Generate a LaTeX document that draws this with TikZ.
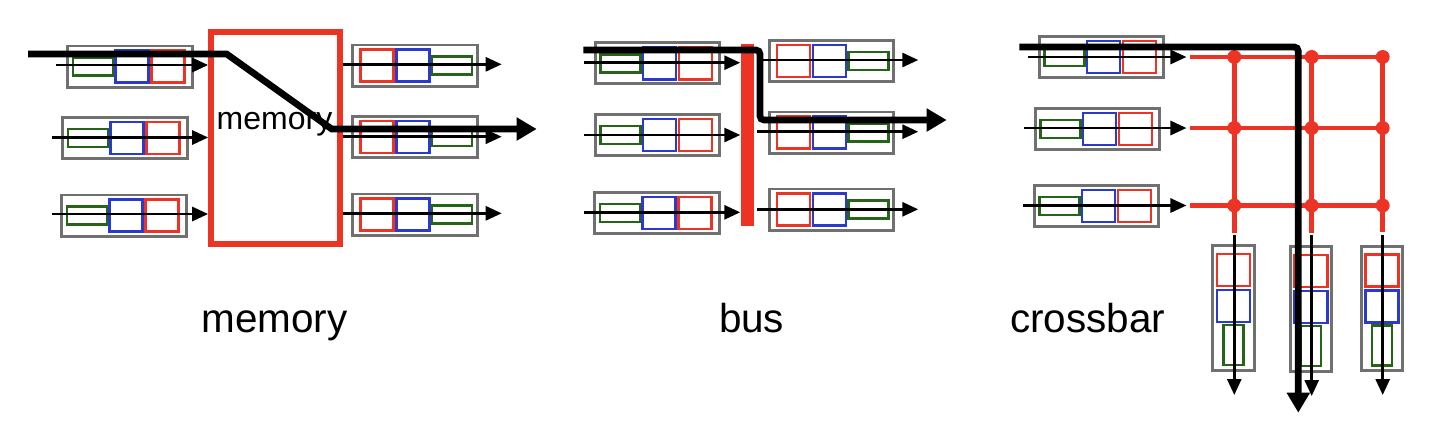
\documentclass[tikz,border=0pt]{standalone}
\usepackage{fontspec}
\setmainfont{Liberation Sans}
\usetikzlibrary{arrows.meta}

\definecolor{qred}{RGB}{236,51,36}
\definecolor{qblue}{RGB}{42,58,206}
\definecolor{qgreen}{RGB}{38,100,24}
\definecolor{qgrey}{RGB}{112,112,112}

\begin{document}
\begin{tikzpicture}[x=0.01cm, y=-0.01cm,
    qbox/.style={draw=qgrey, line width=0.85pt, minimum width=1.24cm, minimum height=0.41cm, inner sep=0pt},
    qboxv/.style={draw=qgrey, line width=0.85pt, minimum width=0.41cm, minimum height=1.24cm, inner sep=0pt},
    gcell/.style={draw=qgreen, line width=0.75pt, minimum width=0.40cm, minimum height=0.18cm, inner sep=0pt},
    gcellv/.style={draw=qgreen, line width=0.75pt, minimum width=0.20cm, minimum height=0.40cm, inner sep=0pt},
    bcell/.style={draw=qblue, line width=0.75pt, minimum width=0.33cm, minimum height=0.32cm, inner sep=0pt},
    rcell/.style={draw=qred, line width=0.75pt, minimum width=0.33cm, minimum height=0.32cm, inner sep=0pt},
    flow/.style={-{Triangle[length=1.6mm, width=1.4mm]}, line width=0.8pt},
    route/.style={-{Triangle[length=2mm, width=2.2mm]}, line width=1.9pt, rounded corners=0.4mm},
    xbar/.style={qred, line width=1.4pt},
    sectlabel/.style={anchor=base west, inner sep=0pt, font=\fontsize{11.5}{14}\selectfont}]

    \useasboundingbox (0,0) rectangle (1432,432);

    \node [qbox] (min1) at (130,66.5) {};
    \node [gcell] (min1g) at (93,66.5) {};
    \node [bcell] (min1b) at (132,66.5) {};
    \node [rcell] (min1r) at (168,66.5) {};
    \node [qbox] (min2) at (125,138) {};
    \node [gcell] (min2g) at (88,138) {};
    \node [bcell] (min2b) at (127,138) {};
    \node [rcell] (min2r) at (163,138) {};
    \node [qbox] (min3) at (124,215.5) {};
    \node [gcell] (min3g) at (87,215.5) {};
    \node [bcell] (min3b) at (126,215.5) {};
    \node [rcell] (min3r) at (162,215.5) {};

    \node [draw=qred, line width=1.7pt, minimum width=1.29cm, minimum height=2.11cm, inner sep=0pt] (mem) at (275.7,138) {};
    \node [anchor=base west, inner sep=0pt, font=\fontsize{9.1}{11}\selectfont] (memtext) at (216,129.3) {memory};

    \node [qbox] (mout1) at (415,65.5) {};
    \node [rcell] (mout1r) at (377,65.5) {};
    \node [bcell] (mout1b) at (413,65.5) {};
    \node [gcell] (mout1g) at (452,65.5) {};
    \node [qbox] (mout2) at (415,137) {};
    \node [rcell] (mout2r) at (377,137) {};
    \node [bcell] (mout2b) at (413,137) {};
    \node [gcell] (mout2g) at (452,137) {};
    \node [qbox] (mout3) at (415,214.5) {};
    \node [rcell] (mout3r) at (377,214.5) {};
    \node [bcell] (mout3b) at (413,214.5) {};
    \node [gcell] (mout3g) at (452,214.5) {};

    \coordinate (mi1) at (56,65);
    \coordinate (mi2) at (52,137.5);
    \coordinate (mi3) at (52,214);
    \coordinate (mo1) at (501.7,64.3);
    \coordinate (mo2) at (501.7,136.7);
    \coordinate (mo3) at (501.7,213.3);
    \draw [flow] (mi1) -- (mi1 -| mem.west);
    \draw [flow] (mi2) -- (mi2 -| mem.west);
    \draw [flow] (mi3) -- (mi3 -| mem.west);
    \draw [flow] (mo1 -| mem.east) -- (mo1);
    \draw [flow] (mo2 -| mem.east) -- (mo2);
    \draw [flow] (mo3 -| mem.east) -- (mo3);

    \coordinate (mp0) at (28,54);
    \coordinate (mp1) at (226.7,54);
    \coordinate (mp2) at (331.7,129);
    \coordinate (mp3) at (536.7,129);
    \draw [route, rounded corners=0pt] (mp0) -- (mp1) -- (mp2) -- (mp3);

    \node [qbox] (bin1) at (657.5,63.3) {};
    \node [gcell] (bin1g) at (620.5,63.3) {};
    \node [bcell] (bin1b) at (659.5,63.3) {};
    \node [rcell] (bin1r) at (695.5,63.3) {};
    \node [qbox] (bin2) at (657.5,135) {};
    \node [gcell] (bin2g) at (620.5,135) {};
    \node [bcell] (bin2b) at (659.5,135) {};
    \node [rcell] (bin2r) at (695.5,135) {};
    \node [qbox] (bin3) at (657,213) {};
    \node [gcell] (bin3g) at (620,213) {};
    \node [bcell] (bin3b) at (659,213) {};
    \node [rcell] (bin3r) at (695,213) {};

    \node [fill=qred, minimum width=0.13cm, minimum height=1.82cm, inner sep=0pt] (bar) at (747.5,135) {};

    \node [qbox] (bout1) at (831.5,61) {};
    \node [rcell] (bout1r) at (793.5,61) {};
    \node [bcell] (bout1b) at (829.5,61) {};
    \node [gcell] (bout1g) at (868.5,61) {};
    \node [qbox] (bout2) at (831.5,132.5) {};
    \node [rcell] (bout2r) at (793.5,132.5) {};
    \node [bcell] (bout2b) at (829.5,132.5) {};
    \node [gcell] (bout2g) at (868.5,132.5) {};
    \node [qbox] (bout3) at (831.5,209.5) {};
    \node [rcell] (bout3r) at (793.5,209.5) {};
    \node [bcell] (bout3b) at (829.5,209.5) {};
    \node [gcell] (bout3g) at (868.5,209.5) {};

    \coordinate (bi1) at (584,62.7);
    \coordinate (bi2) at (584,135);
    \coordinate (bi3) at (584,212.3);
    \coordinate (bs1) at (757,60);
    \coordinate (bs2) at (757,131.7);
    \coordinate (bs3) at (757,209.3);
    \coordinate (bo1) at (918.3,60);
    \coordinate (bo2) at (918.3,131.7);
    \coordinate (bo3) at (918.3,209.3);
    \draw [flow] (bi1) -- (bi1 -| bar.west);
    \draw [flow] (bi2) -- (bi2 -| bar.west);
    \draw [flow] (bi3) -- (bi3 -| bar.west);
    \draw [flow] (bs1) -- (bo1);
    \draw [flow] (bs2) -- (bo2);
    \draw [flow] (bs3) -- (bo3);

    \coordinate (bp0) at (583.3,50);
    \coordinate (bp1) at (760,50);
    \coordinate (bp2) at (760,120);
    \coordinate (bp3) at (946.7,120);
    \draw [route] (bp0) -- (bp1) -- (bp2) -- (bp3);

    \node [qbox] (xin1) at (1101.5,57) {};
    \node [gcell] (xin1g) at (1064.5,57) {};
    \node [bcell] (xin1b) at (1103.5,57) {};
    \node [rcell] (xin1r) at (1139.5,57) {};
    \node [qbox] (xin2) at (1097.5,129) {};
    \node [gcell] (xin2g) at (1060.5,129) {};
    \node [bcell] (xin2b) at (1099.5,129) {};
    \node [rcell] (xin2r) at (1135.5,129) {};
    \node [qbox] (xin3) at (1096.5,206) {};
    \node [gcell] (xin3g) at (1059.5,206) {};
    \node [bcell] (xin3b) at (1098.5,206) {};
    \node [rcell] (xin3r) at (1134.5,206) {};

    \coordinate (xi1) at (1028.3,57);
    \coordinate (xi2) at (1024,128);
    \coordinate (xi3) at (1023.3,205.5);
    \coordinate (xe1) at (1186.5,57);
    \coordinate (xe2) at (1186.5,128);
    \coordinate (xe3) at (1186.5,205.5);
    \coordinate (xh1) at (1190,57);
    \coordinate (xh2) at (1190,128);
    \coordinate (xh3) at (1190,205.5);
    \coordinate (p11) at (1234.3,57);
    \coordinate (p12) at (1311.7,57);
    \coordinate (p13) at (1382.7,57);
    \coordinate (p21) at (1234.3,128);
    \coordinate (p22) at (1311.7,128);
    \coordinate (p23) at (1382.7,128);
    \coordinate (p31) at (1234.3,205.5);
    \coordinate (p32) at (1311.7,205.5);
    \coordinate (p33) at (1382.7,205.5);
    \coordinate (xv1) at (1234.3,233);
    \coordinate (xv2) at (1311.7,233);
    \coordinate (xv3) at (1382.7,232);

    \draw [xbar] (xh1) -- (p13);
    \draw [xbar] (xh2) -- (p23);
    \draw [xbar] (xh3) -- (p33);
    \draw [xbar] (p11) -- (xv1);
    \draw [xbar] (p12) -- (xv2);
    \draw [xbar] (p13) -- (xv3);
    \fill [qred] (p11) circle [radius=7] (p12) circle [radius=7] (p13) circle [radius=7];
    \fill [qred] (p21) circle [radius=7] (p22) circle [radius=7] (p23) circle [radius=7];
    \fill [qred] (p31) circle [radius=7] (p32) circle [radius=7] (p33) circle [radius=7];

    \draw [flow] (xi1) -- (xe1);
    \draw [flow] (xi2) -- (xe2);
    \draw [flow] (xi3) -- (xe3);

    \node [qboxv] (xout1) at (1233.5,308) {};
    \node [rcell] (xout1r) at (1233.5,270) {};
    \node [bcell] (xout1b) at (1233.5,306) {};
    \node [gcellv] (xout1g) at (1233.5,345) {};
    \node [qboxv] (xout2) at (1311,309) {};
    \node [rcell] (xout2r) at (1311,271) {};
    \node [bcell] (xout2b) at (1311,307) {};
    \node [gcellv] (xout2g) at (1311,346) {};
    \node [qboxv] (xout3) at (1382,308.5) {};
    \node [rcell] (xout3r) at (1382,270.5) {};
    \node [bcell] (xout3b) at (1382,306.5) {};
    \node [gcellv] (xout3g) at (1382,345.5) {};

    \coordinate (xs1) at (1234.3,235);
    \coordinate (xs2) at (1311.7,235);
    \coordinate (xs3) at (1382.7,235);
    \coordinate (xo1) at (1234.3,395);
    \coordinate (xo2) at (1311.7,396);
    \coordinate (xo3) at (1382.7,395);
    \draw [flow] (xs1) -- (xo1);
    \draw [flow] (xs2) -- (xo2);
    \draw [flow] (xs3) -- (xo3);

    \coordinate (xp0) at (1019.3,47);
    \coordinate (xp1) at (1298.3,47);
    \coordinate (xp2) at (1298.3,412.7);
    \draw [route] (xp0) -- (xp1) -- (xp2);

    \node [sectlabel] (memlabel) at (200.7,332.7) {memory};
    \node [sectlabel] (buslabel) at (718.3,332.7) {bus};
    \node [sectlabel] (xlabel) at (1009.3,332.7) {crossbar};
\end{tikzpicture}
\end{document}
